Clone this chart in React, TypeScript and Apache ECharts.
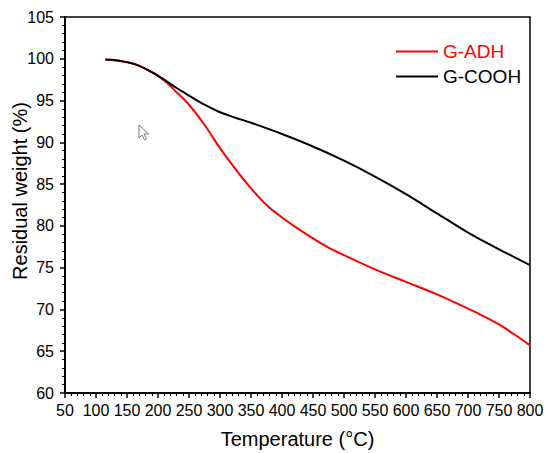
import React, { useEffect, useRef } from "react";
import * as echarts from "echarts";

const adhTemp = [115, 140, 165, 190, 210, 230, 250, 275, 300, 325, 350, 375, 400, 425, 450, 475, 500, 550, 600, 650, 700, 725, 750, 775, 800];
const adhWeight = [99.9, 99.7, 99.3, 98.4, 97.4, 96.0, 94.5, 92.1, 89.3, 86.8, 84.5, 82.5, 81.0, 79.7, 78.5, 77.4, 76.5, 74.8, 73.3, 71.8, 70.1, 69.2, 68.2, 67.0, 65.7];

const coohTemp = [115, 140, 165, 190, 210, 230, 250, 275, 300, 325, 350, 400, 450, 500, 550, 600, 650, 700, 750, 800];
const coohWeight = [99.9, 99.75, 99.3, 98.4, 97.5, 96.5, 95.6, 94.5, 93.6, 92.95, 92.35, 91.0, 89.5, 87.8, 85.9, 83.8, 81.5, 79.2, 77.2, 75.3];

const seriesNames = ["G-ADH", "G-COOH"];
const seriesColors = ["#ff0000", "#000000"];
const xTitle = "Temperature (°C)";
const yTitle = "Residual weight (%)";

const FONT = "Liberation Sans, Arial, sans-serif";

export default function App() {
  const ref = useRef<HTMLDivElement>(null);
  useEffect(() => {
    if (!ref.current) return;
    const chart = echarts.init(ref.current, undefined, { renderer: "svg" });
    const toPairs = (xs: number[], ys: number[]) => xs.map((x, i) => [x, ys[i]]);
    chart.setOption({
      animation: false,
      backgroundColor: "#fff",
      grid: {
        left: 65,
        right: 18,
        top: 17,
        bottom: 60,
        show: true,
        borderColor: "#000",
        borderWidth: 1.5,
        containLabel: false,
        outerBoundsMode: "none",
      },
      legend: {
        orient: "vertical",
        left: 391,
        top: 37,
        itemWidth: 42,
        itemHeight: 2,
        itemGap: 6,
        icon: "rect",
        textStyle: { fontFamily: FONT, fontSize: 19 },
        data: [
          { name: seriesNames[0], textStyle: { color: seriesColors[0] } },
          { name: seriesNames[1], textStyle: { color: seriesColors[1] } },
        ],
      },
      xAxis: {
        type: "value",
        min: 50,
        max: 800,
        interval: 50,
        name: xTitle,
        nameLocation: "middle",
        nameGap: 36,
        nameMoveOverlap: false,
        nameTextStyle: { fontFamily: FONT, fontSize: 20, color: "#000" },
        axisLine: { show: true, lineStyle: { color: "#000", width: 2 } },
        axisTick: { show: true, length: 5, lineStyle: { color: "#000", width: 1.5 } },
        minorTick: { show: true, splitNumber: 5, length: 3, lineStyle: { color: "#000", width: 1 } },
        axisLabel: { fontFamily: FONT, fontSize: 16, color: "#000", margin: 9 },
        splitLine: { show: false },
      },
      yAxis: {
        type: "value",
        min: 60,
        max: 105,
        interval: 5,
        axisLine: { show: true, lineStyle: { color: "#000", width: 2 } },
        axisTick: { show: true, length: 5, lineStyle: { color: "#000", width: 1.5 } },
        minorTick: { show: true, splitNumber: 5, length: 3, lineStyle: { color: "#000", width: 1 } },
        axisLabel: { fontFamily: FONT, fontSize: 16, color: "#000", margin: 11 },
        splitLine: { show: false },
      },
      series: [
        {
          name: seriesNames[0],
          type: "line",
          smooth: 0.3,
          symbol: "none",
          data: toPairs(adhTemp, adhWeight),
          lineStyle: { color: seriesColors[0], width: 2 },
          itemStyle: { color: seriesColors[0] },
          z: 3,
        },
        {
          name: seriesNames[1],
          type: "line",
          smooth: 0.3,
          symbol: "none",
          data: toPairs(coohTemp, coohWeight),
          lineStyle: { color: seriesColors[1], width: 2 },
          itemStyle: { color: seriesColors[1] },
          z: 4,
        },
      ],
      graphic: [
        {
          type: "text",
          x: 20,
          y: 191,
          rotation: Math.PI / 2,
          style: {
            text: yTitle,
            fontFamily: FONT,
            fontSize: 20,
            fill: "#000",
            textAlign: "center",
            textVerticalAlign: "middle",
          },
        },
        {
          type: "polygon",
          x: 139,
          y: 125,
          shape: {
            points: [[0, 0], [0, 13], [3, 10], [5.5, 15], [7.5, 14], [5, 9], [9.5, 9]],
          },
          style: { fill: "#fff", stroke: "#777", lineWidth: 1 },
        },
      ],
    });
    return () => chart.dispose();
  }, []);
  return <div ref={ref} style={{ width: 548, height: 453, position: "absolute", left: 0, top: 0 }} />;
}
